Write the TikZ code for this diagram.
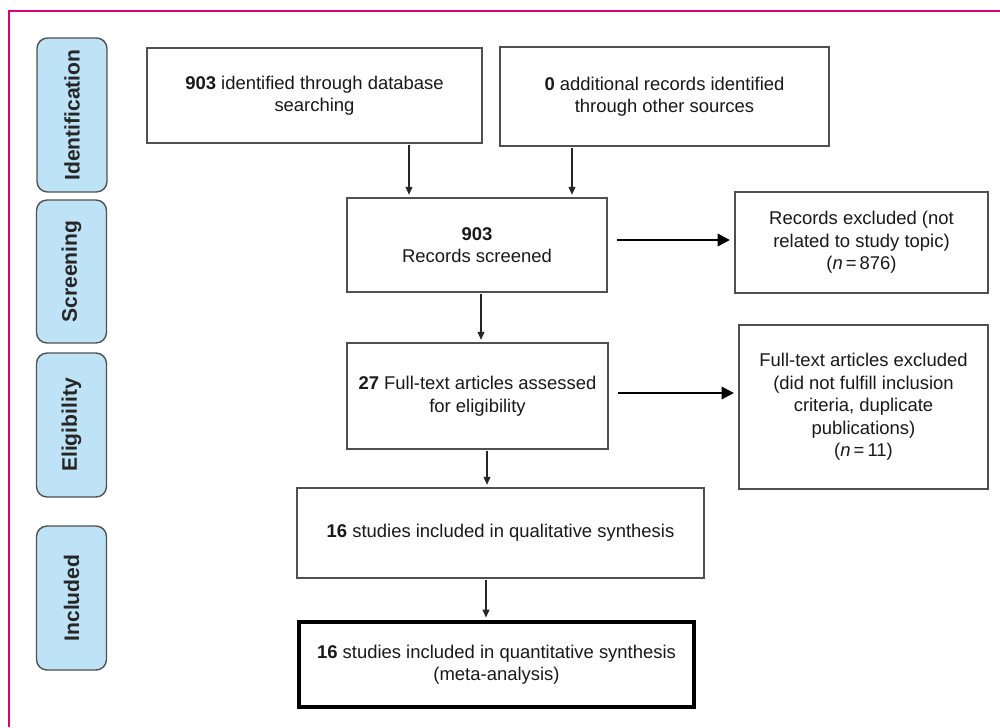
\documentclass[tikz,border=0pt]{standalone}
\usepackage{fontspec}
\setmainfont{Liberation Sans}
\usepackage{xcolor}
\usepackage{tikz}
\usetikzlibrary{shapes,arrows,positioning,calc,arrows.meta}

\definecolor{framepink}{RGB}{218,0,112}
\definecolor{phaseblue}{RGB}{190,227,247}
\definecolor{boxgray}{RGB}{80,80,80}

\tikzset{
  phase/.style={draw=boxgray, fill=phaseblue, rounded corners=6pt, line width=0.8pt,
    rotate=90, minimum height=1.40cm, text=black!85,
    font=\fontsize{12}{14}\selectfont\bfseries},
  stepbox/.style={draw=boxgray, fill=white, line width=0.8pt, align=center,
    font=\fontsize{10.5}{12.8}\selectfont, text=black!90},
  thinarr/.style={-{Triangle[length=4.5pt,width=4pt]}, line width=0.6pt, draw=black!85,
    shorten <=1pt, shorten >=1.5pt},
  thickarr/.style={-{Triangle[length=7pt,width=7pt]}, line width=1.4pt, draw=black,
    shorten <=5.5pt, shorten >=2.5pt}
}

\begin{document}
\begin{tikzpicture}[x=0.02cm, y=-0.02cm]
    \useasboundingbox (0,0) rectangle (1000,727);
    \fill[white] (0,0) rectangle (1000,727);

    % Frame
    \draw[framepink, line width=1.2pt] (9,727) -- (9,11) -- (1000,11);

    % Phases
    \node[phase, minimum width=3.08cm] (ident) at (72,115) {Identification};
    \node[phase, minimum width=2.86cm] (screen) at (71.5,271.5) {Screening};
    \node[phase, minimum width=2.88cm] (elig) at (71.5,425) {Eligibility};
    \node[phase, minimum width=2.88cm] (incl) at (71.5,598) {Included};

    % Boxes
    \node[stepbox, minimum width=6.70cm, minimum height=1.90cm] (db) at (314.5,95.5)
        {\textbf{903} identified through database\\searching};
    \node[stepbox, minimum width=6.58cm, minimum height=1.98cm] (other) at (664.5,96.5)
        {\textbf{0} additional records identified\\through other sources};
    \node[stepbox, minimum width=5.20cm, minimum height=1.88cm] (scr) at (477,245)
        {\textbf{903}\\Records screened};
    \node[stepbox, minimum width=5.06cm, minimum height=2.02cm] (exc1) at (861.5,242.5)
        {Records excluded (not\\related to study topic)\\(\textit{n}\,=\,876)};
    \node[stepbox, minimum width=5.22cm, minimum height=2.12cm] (full) at (477.5,396)
        {\textbf{27} Full-text articles assessed\\for eligibility};
    \node[stepbox, minimum width=4.98cm, minimum height=3.28cm] (exc2) at (863.5,407)
        {Full-text articles excluded\\(did not fulfill inclusion\\criteria, duplicate\\publications)\\(\textit{n}\,=\,11)};
    \node[stepbox, minimum width=8.14cm, minimum height=1.80cm] (qual) at (500.5,533)
        {\textbf{16} studies included in qualitative synthesis};
    \node[stepbox, draw=black, line width=2.2pt, minimum width=7.90cm, minimum height=1.70cm] (quant) at (496.5,664.5)
        {\textbf{16} studies included in quantitative synthesis\\(meta-analysis)};

    % Arrows down
    \draw[thinarr] (db.south -| 409,0) -- (scr.north -| 409,0);
    \draw[thinarr] (other.south -| 572,0) -- (scr.north -| 572,0);
    \draw[thinarr] (scr.south -| 481,0) -- (full.north -| 481,0);
    \draw[thinarr] (full.south -| 487,0) -- (qual.north -| 487,0);
    \draw[thinarr] (qual.south -| 486,0) -- (quant.north -| 486,0);

    % Exclusions
    \draw[thickarr] (scr.east |- 0,240) -- (exc1.west |- 0,240);
    \draw[thickarr] (full.east |- 0,393) -- (exc2.west |- 0,393);
\end{tikzpicture}
\end{document}
